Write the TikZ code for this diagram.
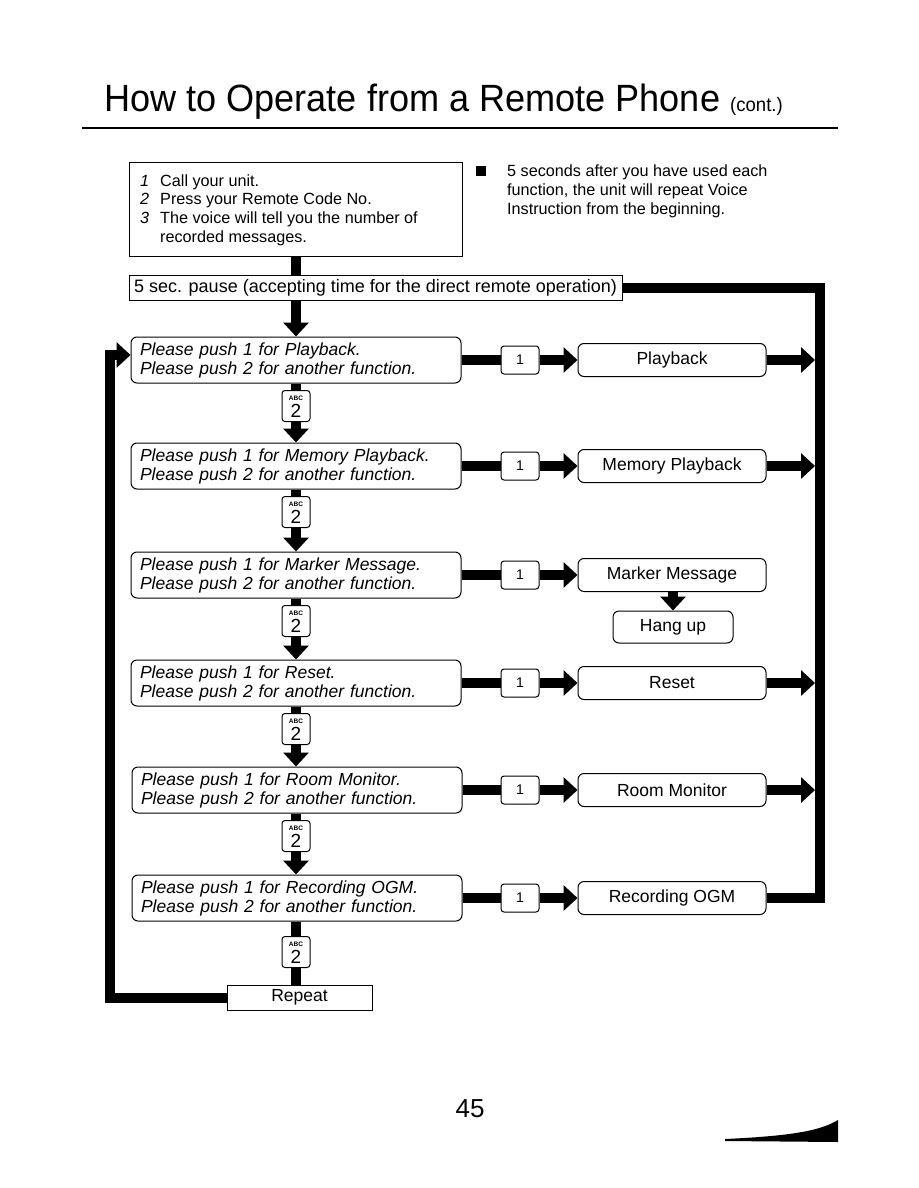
\documentclass[tikz,border=0pt]{standalone}
\usepackage{fontspec}
\setmainfont{Liberation Sans}
\newfontfamily\titlefont[FakeStretch=0.95]{Liberation Sans}
\usetikzlibrary{arrows.meta}
\begin{document}
\begin{tikzpicture}[x=1pt,y=-1pt,
  bigarrow/.style={line width=10pt,-{Triangle[width=25pt,length=14pt]}},
  bar/.style={line width=10pt},
  body/.style={anchor=base west,inner sep=0pt,font=\fontsize{16.2}{18}\selectfont},
  promptbox/.style={draw,line width=1pt,rounded corners=6pt,minimum width=330pt,minimum height=46pt,
    text width=312pt,inner xsep=9pt,align=left,font=\fontsize{17.5}{19}\selectfont\itshape},
  funcbox/.style={draw,fill=white,line width=1pt,rounded corners=6pt,minimum width=188pt,minimum height=33pt,
    inner sep=0pt,font=\fontsize{17.5}{19}\selectfont},
  onekey/.style={draw,fill=white,line width=1pt,rounded corners=3pt,minimum width=38pt,minimum height=28pt,
    inner sep=0pt,font=\fontsize{14}{14}\selectfont},
  abckey/.style={draw,fill=white,line width=1pt,rounded corners=3pt,minimum width=28pt,minimum height=31pt,
    inner sep=0pt},
  abctext/.style={inner sep=0pt,font=\fontsize{6.5}{6.5}\selectfont\bfseries},
  twotext/.style={inner sep=0pt,font=\fontsize{19}{19}\selectfont},
  plainbox/.style={draw,line width=1pt,inner sep=0pt,font=\fontsize{17.5}{19}\selectfont}
]
\useasboundingbox (0,0) rectangle (918,1188);

% title
\node[anchor=base west,inner sep=0pt] (title) at (104,112)
  {\titlefont\fontsize{38}{38}\selectfont How to Operate from a Remote Phone \fontsize{19.5}{19.5}\selectfont(cont.)};
\coordinate (ruleL) at (82,128);
\coordinate (ruleR) at (838,128);
\draw[line width=2.5pt] (ruleL) -- (ruleR);

% intro box
\node[draw,line width=1pt,anchor=north west,minimum width=333pt,minimum height=94pt,inner sep=0pt] (intro) at (129,162) {};
\node[body] (n1) at (140,186) {\itshape 1};
\node[body] (t1) at (160,186) {Call your unit.};
\node[body] (n2) at (140,204.5) {\itshape 2};
\node[body] (t2) at (160,204.5) {Press your Remote Code No.};
\node[body] (n3) at (140,223) {\itshape 3};
\node[body] (t3) at (160,223) {The voice will tell you the number of};
\node[body] (t4) at (160,242) {recorded messages.};

% bullet note
\node[fill=black,minimum width=10pt,minimum height=10pt,inner sep=0pt] (bul) at (481,171) {};
\node[body] (b1) at (507,176) {5 seconds after you have used each};
\node[body] (b2) at (507,195) {function, the unit will repeat Voice};
\node[body] (b3) at (507,214) {Instruction from the beginning.};

% pause box
\node[plainbox,fill=white,minimum width=493pt,minimum height=25pt,font=\fontsize{18}{20}\selectfont] (pause) at (375.5,288)
  {5 sec. pause (accepting time for the direct remote operation)};
\draw[bar] (intro.south -| 296,0) -- (pause.north -| 296,0);

% prompt boxes
\node[promptbox] (p1) at (296,360) {Please push 1 for Playback.\\Please push 2 for another function.};
\node[promptbox] (p2) at (296,466) {Please push 1 for Memory Playback.\\Please push 2 for another function.};
\node[promptbox] (p3) at (296,575) {Please push 1 for Marker Message.\\Please push 2 for another function.};
\node[promptbox] (p4) at (296,683) {Please push 1 for Reset.\\Please push 2 for another function.};
\node[promptbox] (p5) at (297,790) {Please push 1 for Room Monitor.\\Please push 2 for another function.};
\node[promptbox] (p6) at (297,898) {Please push 1 for Recording OGM.\\Please push 2 for another function.};

% "1" keys and function boxes
\foreach \i/\y/\lab in {1/360/Playback,2/466/Memory Playback,3/575/Marker Message,4/683/Reset,5/790/Room Monitor,6/898/Recording OGM}{
  \node[onekey] (k\i) at (520,\y) {1};
  \node[funcbox] (f\i) at (672,\y) {\lab};
  \draw[bar] (p\i.east) -- (k\i.west);
  \draw[bigarrow] (k\i.east) -- (f\i.west);
}

% right return line
\coordinate (Rtop) at (820,288);
\coordinate (Rbot) at (820,898);
\draw[bar] (pause.east) -- (Rtop) -- (Rbot) -- (f6.east);
\foreach \i in {1,2,4,5}{
  \draw[bigarrow] (f\i.east) -- (f\i.east -| 815,0);
}

% hang up
\node[funcbox,minimum width=120pt,minimum height=32pt] (hang) at (673,627) {Hang up};
\draw[bigarrow] (f3.south -| 673,0) -- (hang.north);

% pause -> first prompt
\draw[bigarrow] (p1.north |- pause.south) -- (p1.north);

% ABC 2 keys
\foreach \i/\y in {1/406,2/512,3/621,4/729,5/836,6/952}{
  \node[abckey] (a\i) at (296,\y) {};
  \node[abctext] (a\i abc) at ([yshift=8pt]a\i.center) {ABC};
  \node[twotext,anchor=base] (a\i two) at ([yshift=-11pt]a\i.center) {2};
}
\draw[bar] (p1.south -| a1.north) -- (a1.north);
\draw[bigarrow] (a1.south) -- (p2.north -| a1.south);
\draw[bar] (p2.south -| a2.north) -- (a2.north);
\draw[bigarrow] (a2.south) -- (p3.north -| a2.south);
\draw[bar] (p3.south -| a3.north) -- (a3.north);
\draw[bigarrow] (a3.south) -- (p4.north -| a3.south);
\draw[bar] (p4.south -| a4.north) -- (a4.north);
\draw[bigarrow] (a4.south) -- (p5.north -| a4.south);
\draw[bar] (p5.south -| a5.north) -- (a5.north);
\draw[bigarrow] (a5.south) -- (p6.north -| a5.south);

\node[plainbox,fill=white,minimum width=145pt,minimum height=25pt] (rep) at (299.5,997.5) {Repeat};
\draw[bar] (p6.south -| a6.north) -- (a6.north);
\draw[bar] (a6.south) -- (rep.north -| a6.south);

% left loop back
\coordinate (Lcorner) at (110,355);
\draw[bigarrow] (rep.west) -| (Lcorner) -- ([yshift=5pt]p1.west);

% page number
\node[anchor=base,inner sep=0pt,font=\fontsize{26}{26}\selectfont] (pg) at (470,1117) {45};

% corner mark
\fill (725,1139) .. controls (790,1136) and (820,1131) .. (838,1120) -- (838,1142) -- (725,1141) -- cycle;
\end{tikzpicture}
\end{document}
